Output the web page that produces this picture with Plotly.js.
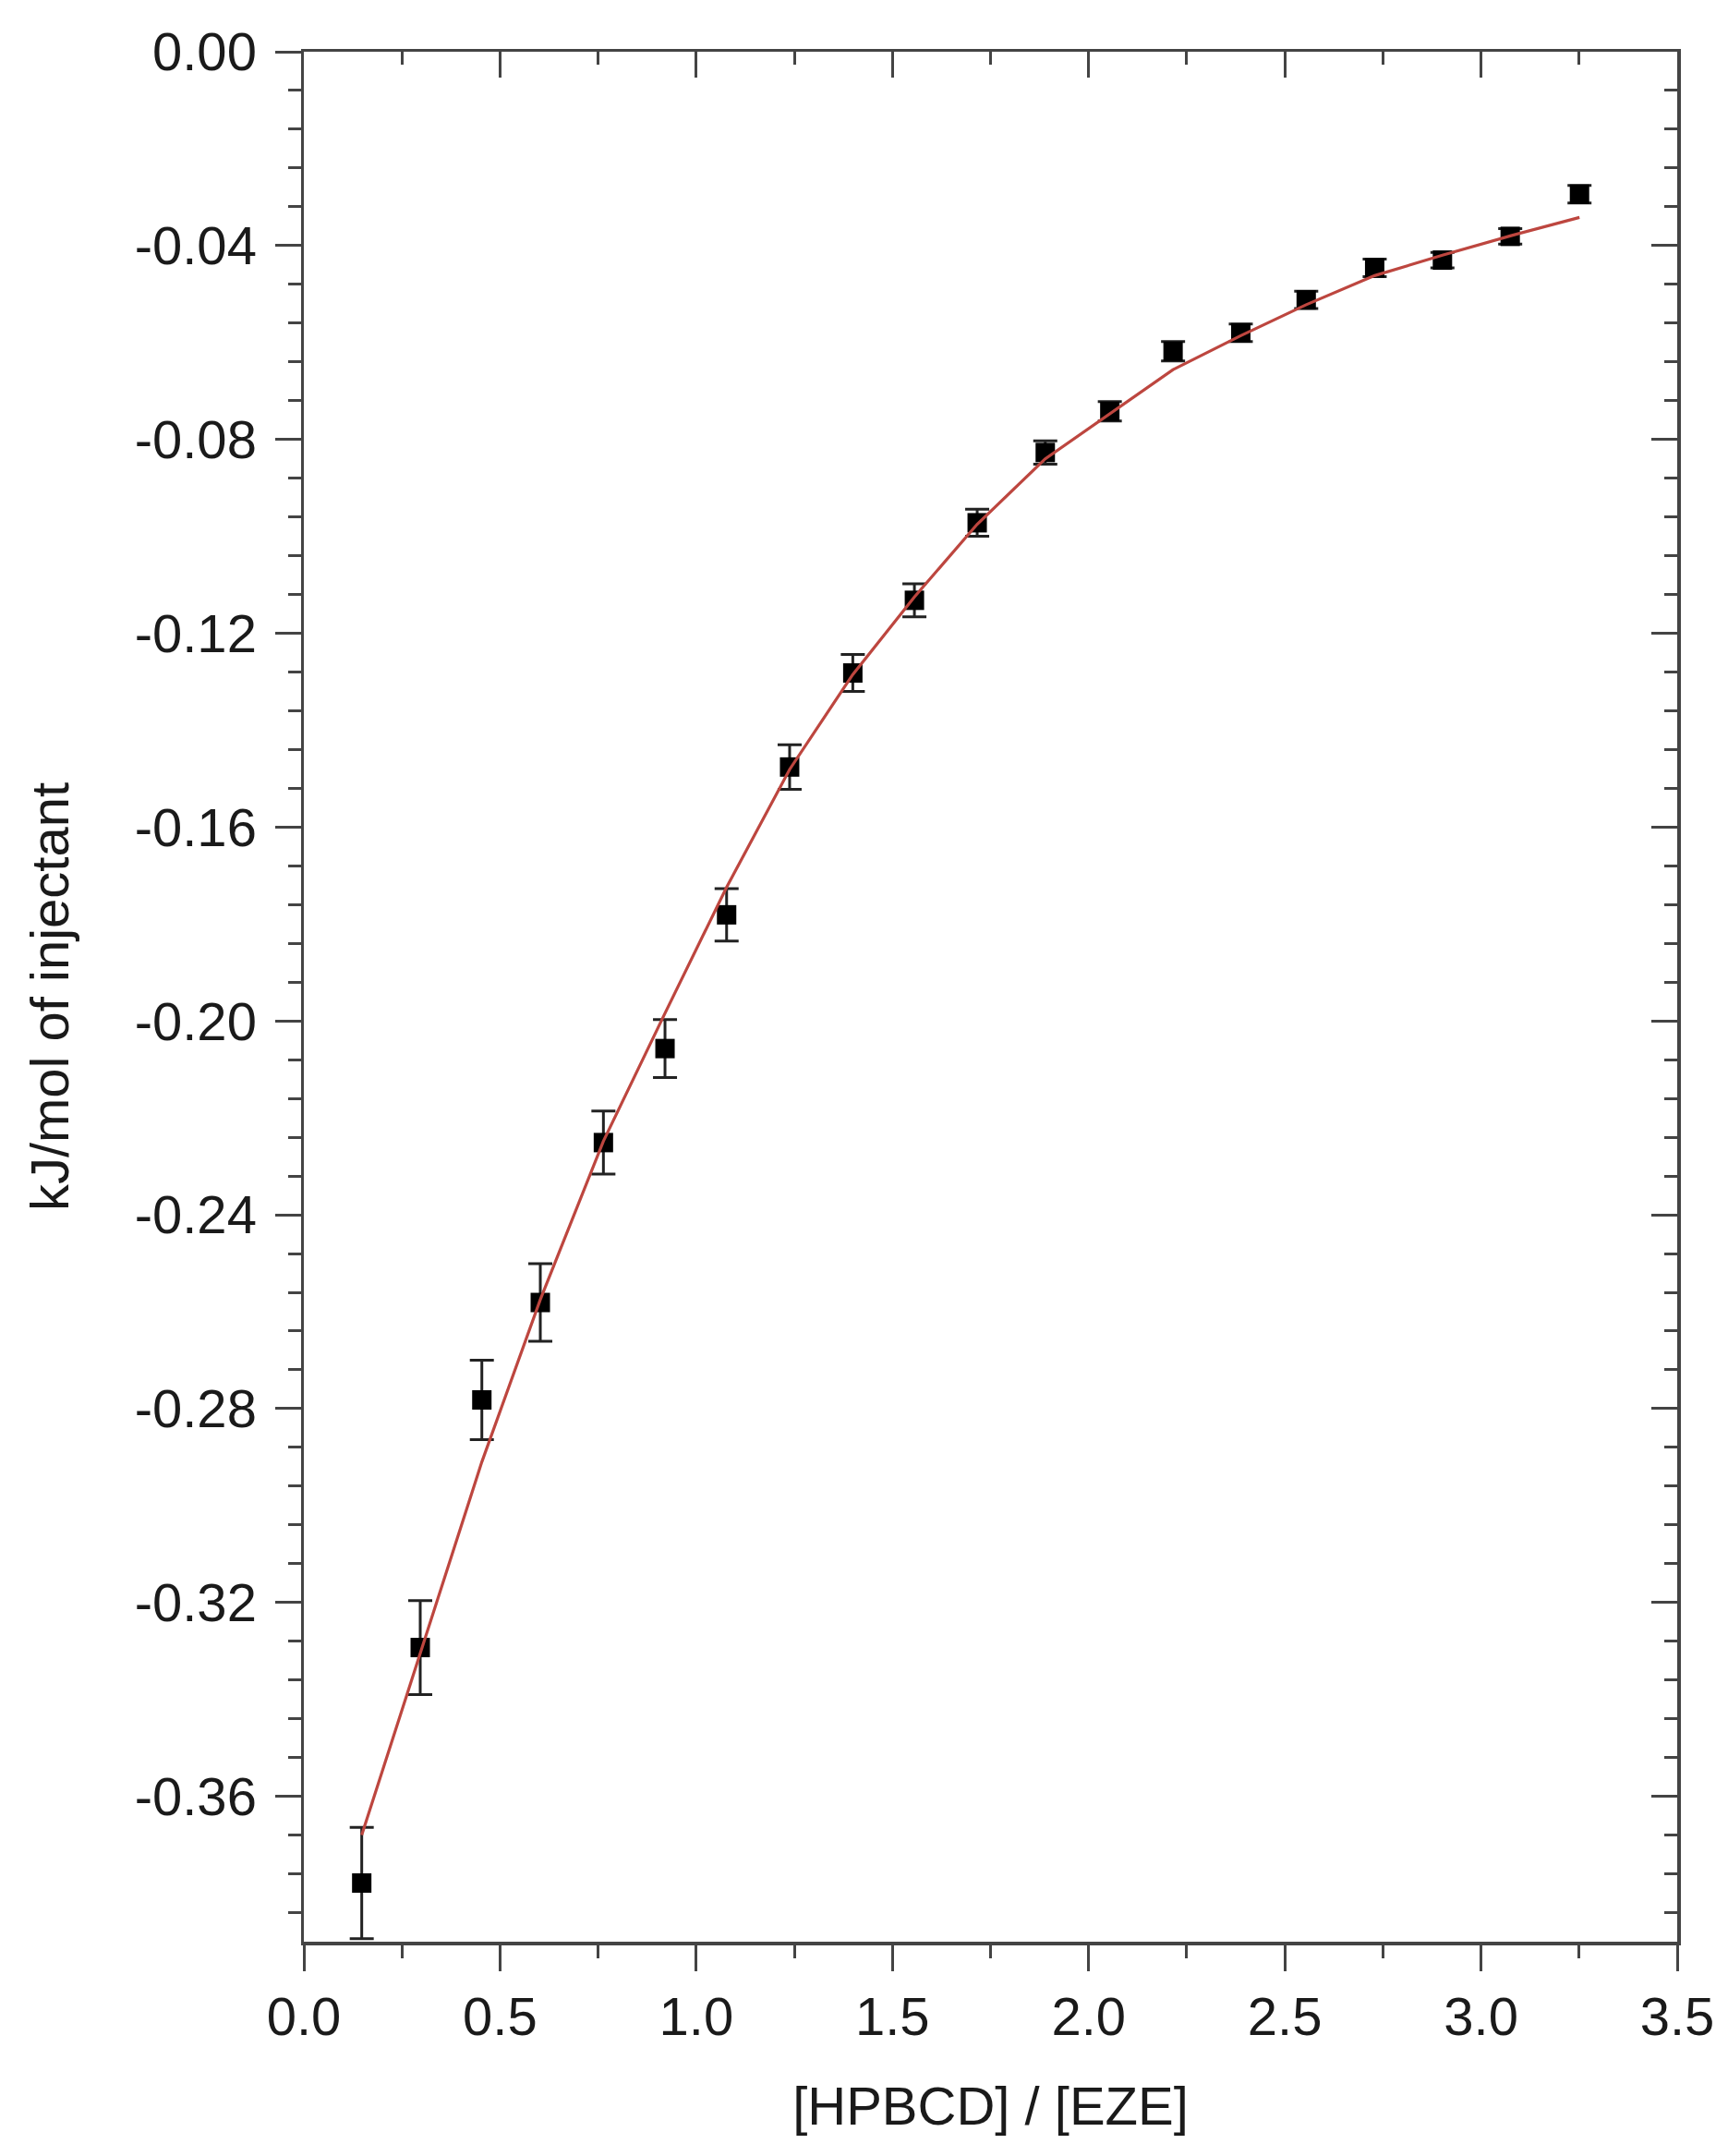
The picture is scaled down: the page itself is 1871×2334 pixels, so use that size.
<!DOCTYPE html>
<html>
<head>
<meta charset="utf-8">
<script src="https://cdn.plot.ly/plotly-3.0.1.min.js"></script>
<style>
  html, body { margin: 0; padding: 0; background: #fff; }
  #chart { width: 1871px; height: 2334px; }
</style>
</head>
<body>
<div id="chart"></div>
<script>
// molar ratio [HPBCD]/[EZE] for each injection
const ratio = [0.1475, 0.2966, 0.4536, 0.6026, 0.7634, 0.9204, 1.0774, 1.238, 1.399, 1.556,
               1.716, 1.8895, 2.054, 2.2152, 2.3878, 2.5545, 2.729, 2.9017, 3.0744, 3.251];
// measured heat, kJ/mol of injectant
const heat = [-0.3779, -0.3293, -0.2782, -0.2581, -0.2251, -0.2057, -0.1781, -0.1476, -0.1282, -0.1132,
              -0.0972, -0.0827, -0.0742, -0.0618, -0.0580, -0.0512, -0.0446, -0.0430, -0.0381, -0.0294];
const heatErr = [0.0115, 0.0097, 0.0082, 0.0080, 0.0065, 0.0060, 0.0054, 0.0046, 0.0038, 0.0034,
                 0.0028, 0.0024, 0.0020, 0.0020, 0.0018, 0.0018, 0.0018, 0.0016, 0.0016, 0.0018];
// fitted curve at the same ratios
const fitHeat = [-0.368, -0.3305, -0.291, -0.2575, -0.2248, -0.1984, -0.1724, -0.1481, -0.1285, -0.1125,
                 -0.0975, -0.0840, -0.0748, -0.0656, -0.0586, -0.0522, -0.0462, -0.0420, -0.0380, -0.0342];

const xTickVals = [0, 0.5, 1, 1.5, 2, 2.5, 3, 3.5];
const xTickText = ['0.0', '0.5', '1.0', '1.5', '2.0', '2.5', '3.0', '3.5'];
const yTickVals = [0, -0.04, -0.08, -0.12, -0.16, -0.2, -0.24, -0.28, -0.32, -0.36];
const yTickText = ['0.00', '-0.04', '-0.08', '-0.12', '-0.16', '-0.20', '-0.24', '-0.28', '-0.32', '-0.36'];

const axisColor = '#444';
const font = { family: 'Liberation Sans, Arial, sans-serif', size: 58, color: '#1a1a1a' };

const xRange = [0, 3.5];
const yRange = [-0.39, 0];

const traces = [
    {
        x: ratio,
        y: heat,
        type: 'scatter',
        mode: 'markers',
        marker: { symbol: 'square', size: 21, color: '#000' },
        error_y: { type: 'data', array: heatErr, color: '#222', thickness: 3, width: 13 },
        cliponaxis: false,
        showlegend: false
    },
    {
        x: ratio,
        y: fitHeat,
        type: 'scatter',
        mode: 'lines',
        line: { color: '#bd463f', width: 3.2 },
        showlegend: false
    },
    // empty trace so the mirrored top/right axes get drawn
    { x: [], y: [], xaxis: 'x2', yaxis: 'y2', type: 'scatter', showlegend: false, hoverinfo: 'skip' }
];

const layout = {
    width: 1871,
    height: 2334,
    margin: { l: 329, r: 55, t: 56, b: 232 },
    paper_bgcolor: '#fff',
    plot_bgcolor: '#fff',
    font: font,
    showlegend: false,
    xaxis: {
        range: xRange,
        tickmode: 'array',
        tickvals: xTickVals,
        ticktext: xTickText,
        ticks: 'outside',
        ticklen: 28,
        tickwidth: 3,
        tickcolor: axisColor,
        showline: true,
        linecolor: axisColor,
        linewidth: 3.5,
        showgrid: false,
        zeroline: false,
        minor: { tickmode: 'linear', tick0: 0, dtick: 0.25, ticks: 'outside', ticklen: 14, tickwidth: 3, tickcolor: axisColor },
        title: { text: '[HPBCD] / [EZE]', font: font, standoff: 46 },
        automargin: false
    },
    yaxis: {
        range: yRange,
        tickmode: 'array',
        tickvals: yTickVals,
        ticktext: yTickText,
        ticks: 'outside',
        ticklen: 28,
        tickwidth: 3,
        tickcolor: axisColor,
        ticklabelstandoff: 8,
        showline: true,
        linecolor: axisColor,
        linewidth: 3.5,
        showgrid: false,
        zeroline: false,
        minor: { tickmode: 'linear', tick0: 0, dtick: 0.008, ticks: 'outside', ticklen: 14, tickwidth: 3, tickcolor: axisColor },
        title: { text: 'kJ/mol of injectant', font: font, standoff: 53 },
        automargin: false
    },
    xaxis2: {
        range: xRange,
        overlaying: 'x',
        anchor: 'y2',
        side: 'top',
        tickmode: 'linear',
        tick0: 0,
        dtick: 0.5,
        ticks: 'inside',
        ticklen: 28,
        tickwidth: 3,
        tickcolor: axisColor,
        showticklabels: false,
        showline: true,
        linecolor: axisColor,
        linewidth: 3.5,
        showgrid: false,
        zeroline: false,
        minor: { tickmode: 'linear', tick0: 0, dtick: 0.25, ticks: 'inside', ticklen: 14, tickwidth: 3, tickcolor: axisColor }
    },
    yaxis2: {
        range: yRange,
        overlaying: 'y',
        anchor: 'x2',
        side: 'right',
        tickmode: 'linear',
        tick0: 0,
        dtick: 0.04,
        ticks: 'inside',
        ticklen: 28,
        tickwidth: 3,
        tickcolor: axisColor,
        showticklabels: false,
        showline: true,
        linecolor: axisColor,
        linewidth: 3.5,
        showgrid: false,
        zeroline: false,
        minor: { tickmode: 'linear', tick0: 0, dtick: 0.008, ticks: 'inside', ticklen: 14, tickwidth: 3, tickcolor: axisColor }
    }
};

Plotly.newPlot('chart', traces, layout, { staticPlot: true, displayModeBar: false });
</script>
</body>
</html>
